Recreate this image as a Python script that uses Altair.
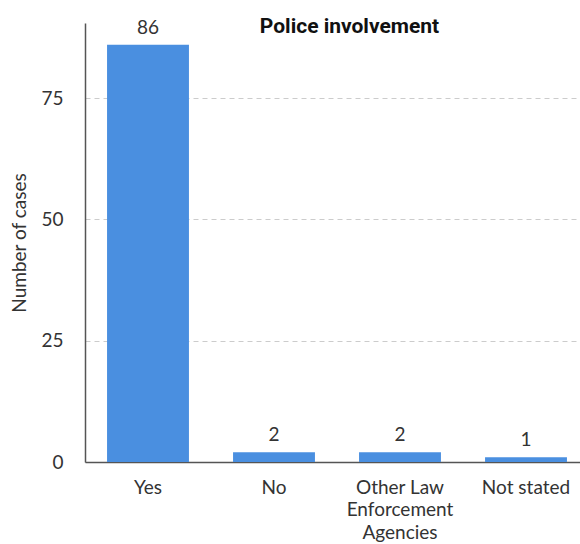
import altair as alt
import pandas as pd

# Police involvement in recorded cases
categories = ["Yes", "No", "Other Law|Enforcement|Agencies", "Not stated"]
cases = [86, 2, 2, 1]

df = pd.DataFrame({"category": categories, "cases": cases})

x = alt.X(
    "category:N",
    sort=categories,
    scale=alt.Scale(range=[0, 504], paddingInner=0.35, paddingOuter=0.175),
    axis=alt.Axis(
        title=None,
        labelAngle=0,
        labelExpr="split(datum.label, '|')",
        labelFont="Lato",
        labelFontSize=19,
        labelColor="#333333",
        labelLineHeight=22.5,
        labelPadding=16,
        ticks=False,
        domainColor="#555555",
        domainWidth=1.5,
        grid=False,
    ),
)

y = alt.Y(
    "cases:Q",
    scale=alt.Scale(domain=[0, 90.5], nice=False),
    axis=alt.Axis(
        title="Number of cases",
        titleFont="Lato",
        titleFontSize=19,
        titleFontWeight="normal",
        titleColor="#333333",
        titlePadding=11,
        values=[0, 25, 50, 75],
        labelFont="Lato",
        labelFontSize=19,
        labelColor="#333333",
        labelPadding=22,
        ticks=False,
        domainColor="#555555",
        domainWidth=1.5,
        grid=True,
        gridColor="#cccccc",
        gridDash=[5, 4],
        gridWidth=1,
    ),
)

bars = alt.Chart(df).mark_bar(color="#4a8fe0").encode(x=x, y=y)

labels = alt.Chart(df).mark_text(
    font="Lato", fontSize=19, color="#333333", baseline="bottom", dy=-7
).encode(
    x=alt.X("category:N", sort=categories),
    y=alt.Y("cases:Q"),
    text=alt.Text("cases:Q"),
)

chart = (
    alt.layer(bars, labels)
    .properties(
        width=495,
        height=439,
        title=alt.TitleParams(
            "Police involvement",
            font="Roboto",
            fontSize=21,
            fontWeight="bold",
            color="#111111",
            anchor="middle",
            baseline="top",
            dx=17,
            dy=22,
        ),
        autosize=alt.AutoSizeParams(type="none"),
        padding={"left": 85, "top": 23, "right": 0, "bottom": 82},
    )
    .configure_view(stroke=None)
)

chart.save("out.html", embed_options={"renderer": "svg", "actions": False})
